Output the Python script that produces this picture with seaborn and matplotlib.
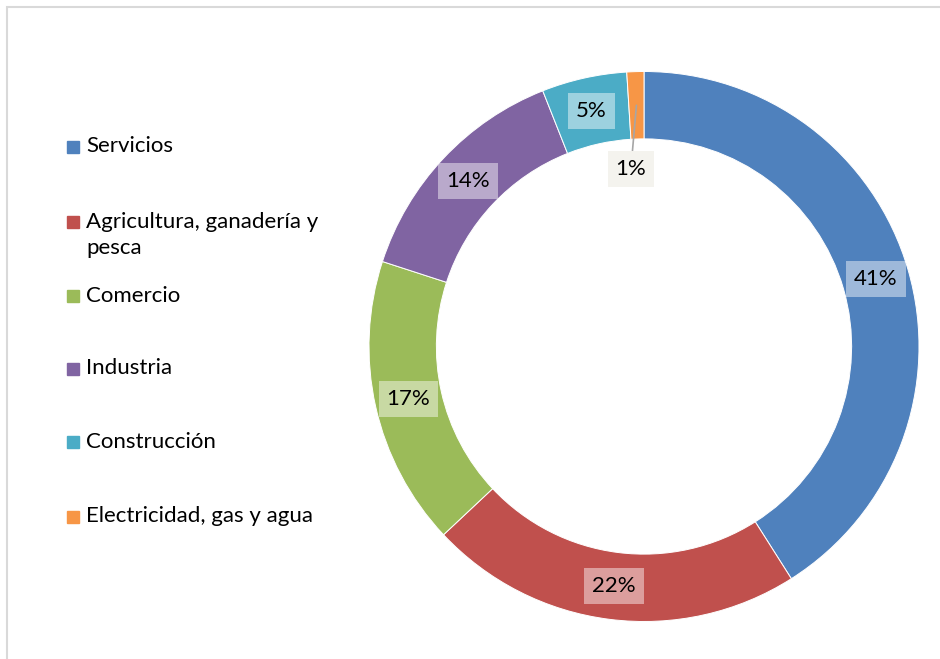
import matplotlib
matplotlib.use("Agg")
import matplotlib.pyplot as plt
import seaborn as sns
import numpy as np
from matplotlib.patches import Rectangle

sectores = ["Servicios", "Agricultura, ganadería y\npesca", "Comercio",
            "Industria", "Construcción", "Electricidad, gas y agua"]
porcentajes = [41, 22, 17, 14, 5, 1]
colores = ["#4F81BD", "#C0504D", "#9BBB59", "#8064A2", "#4BACC6", "#F79646"]

sns.set_style("white")
plt.rcParams["font.family"] = ["Lato", "DejaVu Sans"]

W, H = 940, 659
fig = plt.figure(figsize=(W / 100, H / 100), dpi=100)

# marco gris
fig.patches.append(Rectangle((7 / W, -0.1), 1.2, 1 - 7 / H + 0.1, transform=fig.transFigure,
                             fill=False, edgecolor="#d9d9d9", lw=1.5))

cx, cy, r = 644, 346.5, 275
ax = fig.add_axes([(cx - r) / W, (H - cy - r) / H, 2 * r / W, 2 * r / H])
ancho = 0.245
wedges, _ = ax.pie(porcentajes, colors=sns.color_palette(colores), startangle=90,
                   counterclock=False, radius=1,
                   wedgeprops=dict(width=ancho, edgecolor="white", linewidth=0.7))
ax.set_xlim(-1, 1)
ax.set_ylim(-1, 1)
ax.set_aspect("equal")
ax.axis("off")

rm = 1 - ancho / 2
for w, v in zip(wedges, porcentajes):
    ang = np.deg2rad((w.theta1 + w.theta2) / 2)
    x, y = rm * np.cos(ang), rm * np.sin(ang)
    if v >= 3:
        ax.text(x, y, f"{v}%", ha="center", va="center", fontsize=16, color="black",
                bbox=dict(boxstyle="square,pad=0.36", fc="white", ec="none", alpha=0.45))
    else:
        ax.annotate(f"{v}%", xy=(x, y), xytext=(x - 0.02, y - 0.23), ha="center", va="center",
                    fontsize=16, color="black",
                    bbox=dict(boxstyle="square,pad=0.36", fc="#f4f3ee", ec="none"),
                    arrowprops=dict(arrowstyle="-", color="#a6a6a6", lw=1.2, shrinkA=0, shrinkB=0))

# leyenda
ys = [147, 222, 296, 369, 442, 517]
for lab, col, y in zip(sectores, colores, ys):
    fig.patches.append(Rectangle((67 / W, 1 - (y + 6) / H), 12 / W, 12 / H,
                                 transform=fig.transFigure, color=col))
    fig.text(86 / W, 1 - (y - 10.5) / H, lab, ha="left", va="top", fontsize=16,
             color="black", linespacing=1.4)

fig.savefig("out.png", dpi=100)
